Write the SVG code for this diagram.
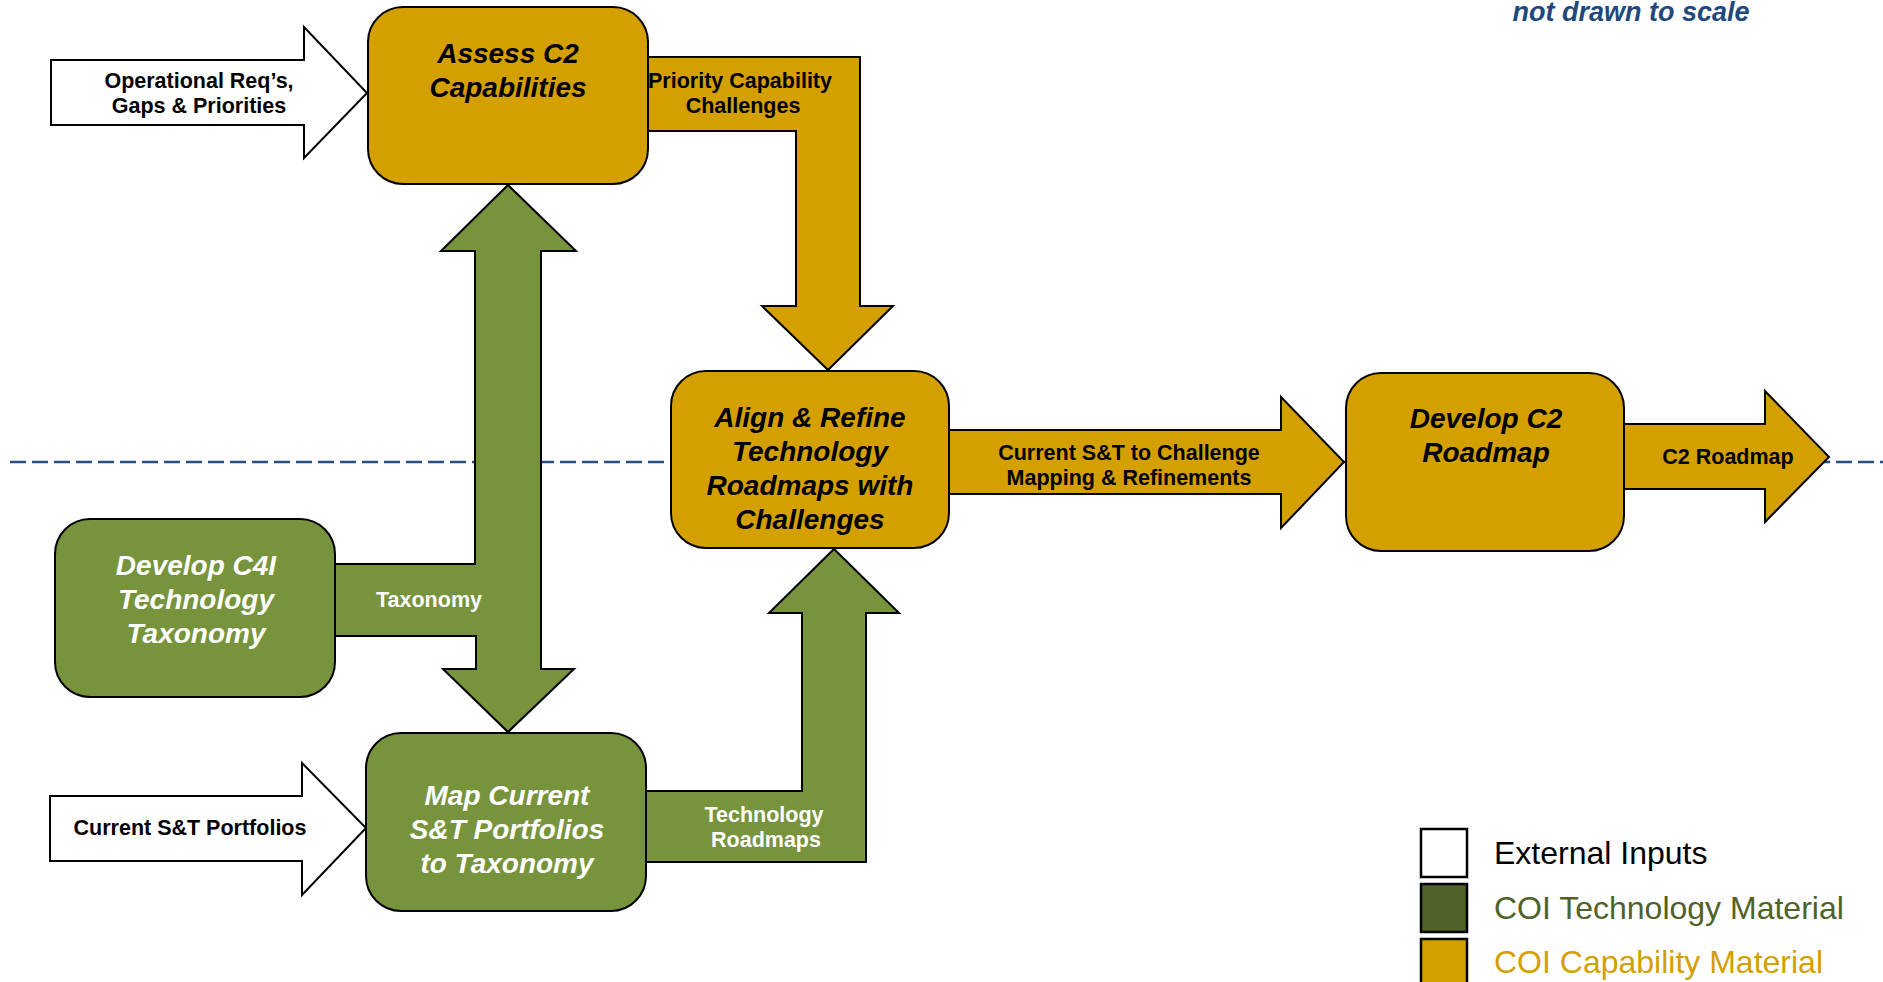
<svg xmlns="http://www.w3.org/2000/svg" width="1883" height="982" viewBox="0 0 1883 982">
<style>
.gold{fill:#D4A000;stroke:#000;stroke-width:2;stroke-linejoin:miter}
.green{fill:#77933C;stroke:#000;stroke-width:2;stroke-linejoin:miter}
.white{fill:#fff;stroke:#000;stroke-width:2;stroke-linejoin:miter}
.title{font-family:"Liberation Sans",Arial,sans-serif;font-size:28px;font-weight:bold;font-style:italic;text-anchor:middle}
.lbl{font-family:"Liberation Sans",Arial,sans-serif;font-size:21.5px;font-weight:bold;text-anchor:middle}
.leg{font-family:"Liberation Sans",Arial,sans-serif;font-size:32px}
</style>
<rect width="1883" height="982" fill="#fff"/>
<line x1="10" y1="462" x2="1883" y2="462" stroke="#2A4D7F" stroke-width="2.5" stroke-dasharray="16 6"/>
<text x="1631" y="21" font-family="Liberation Sans, Arial, sans-serif" font-size="27" font-weight="bold" font-style="italic" fill="#1F497D" text-anchor="middle">not drawn to scale</text>
<g id="connectors">
  <g id="in-operational">
    <polygon class="white" points="51,60 304,60 304,27 367,93 304,158 304,125 51,125"/>
    <text class="lbl" x="199" y="88">Operational Req’s,</text>
    <text class="lbl" x="199" y="113">Gaps &amp; Priorities</text>
  </g>
  <g id="in-portfolios">
    <polygon class="white" points="50,796 302,796 302,763 366,828 302,895 302,861 50,861"/>
    <text class="lbl" x="190" y="835">Current S&amp;T Portfolios</text>
  </g>
  <g id="priority-arrow">
    <polygon class="gold" points="620,57 860,57 860,306 893,306 828,370 762,306 796,306 796,131 620,131"/>
    <text class="lbl" x="740" y="88">Priority Capability</text>
    <text class="lbl" x="743" y="113">Challenges</text>
  </g>
  <g id="taxonomy-arrow">
    <polygon class="green" points="508,185 576,251 541,251 541,669 574,669 508,732 443,669 476,669 476,636 310,636 310,564 475,564 475,251 441,251"/>
    <text class="lbl" x="429" y="607" fill="#fff">Taxonomy</text>
  </g>
  <g id="techroadmap-arrow">
    <polygon class="green" points="620,791 802,791 802,613 769,613 834,549 899,613 866,613 866,862 620,862"/>
    <text class="lbl" x="764" y="822" fill="#fff">Technology</text>
    <text class="lbl" x="766" y="847" fill="#fff">Roadmaps</text>
  </g>
  <g id="mapping-arrow">
    <polygon class="gold" points="930,430 1281,430 1281,397 1344,462 1281,528 1281,494 930,494"/>
    <text class="lbl" x="1129" y="460">Current S&amp;T to Challenge</text>
    <text class="lbl" x="1129" y="485">Mapping &amp; Refinements</text>
  </g>
  <g id="c2roadmap-arrow">
    <polygon class="gold" points="1600,424 1765,424 1765,391 1829,457 1765,522 1765,489 1600,489"/>
    <text class="lbl" x="1728" y="464">C2 Roadmap</text>
  </g>
</g>
<g id="assess">
  <rect class="gold" x="368" y="7" width="280" height="177" rx="35" ry="35"/>
  <text class="title" x="508" y="63">Assess C2</text>
  <text class="title" x="508" y="97">Capabilities</text>
</g>
<g id="align">
  <rect class="gold" x="671" y="371" width="278" height="177" rx="35" ry="35"/>
  <text class="title" x="810" y="427">Align &amp; Refine</text>
  <text class="title" x="810" y="461">Technology</text>
  <text class="title" x="810" y="495">Roadmaps with</text>
  <text class="title" x="810" y="529">Challenges</text>
</g>
<g id="develop-c2">
  <rect class="gold" x="1346" y="373" width="278" height="178" rx="35" ry="35"/>
  <text class="title" x="1486" y="428">Develop C2</text>
  <text class="title" x="1486" y="462">Roadmap</text>
</g>
<g id="develop-c4i">
  <rect class="green" x="55" y="519" width="280" height="178" rx="35" ry="35"/>
  <text class="title" x="196" y="575" fill="#fff">Develop C4I</text>
  <text class="title" x="196" y="609" fill="#fff">Technology</text>
  <text class="title" x="196" y="643" fill="#fff">Taxonomy</text>
</g>
<g id="map-current">
  <rect class="green" x="366" y="733" width="280" height="178" rx="35" ry="35"/>
  <text class="title" x="507" y="805" fill="#fff">Map Current</text>
  <text class="title" x="507" y="839" fill="#fff">S&amp;T Portfolios</text>
  <text class="title" x="507" y="873" fill="#fff">to Taxonomy</text>
</g>
<g id="legend">
  <rect x="1421" y="829" width="46" height="48" fill="#fff" stroke="#000" stroke-width="2.5"/>
  <rect x="1421" y="884" width="46" height="48" fill="#4F6228" stroke="#000" stroke-width="2.5"/>
  <rect x="1421" y="939" width="46" height="48" fill="#D4A000" stroke="#000" stroke-width="2.5"/>
  <text class="leg" x="1494" y="864" fill="#000">External Inputs</text>
  <text class="leg" x="1494" y="919" fill="#4F6228">COI Technology Material</text>
  <text class="leg" x="1494" y="973" fill="#D4A000">COI Capability Material</text>
</g>
</svg>
